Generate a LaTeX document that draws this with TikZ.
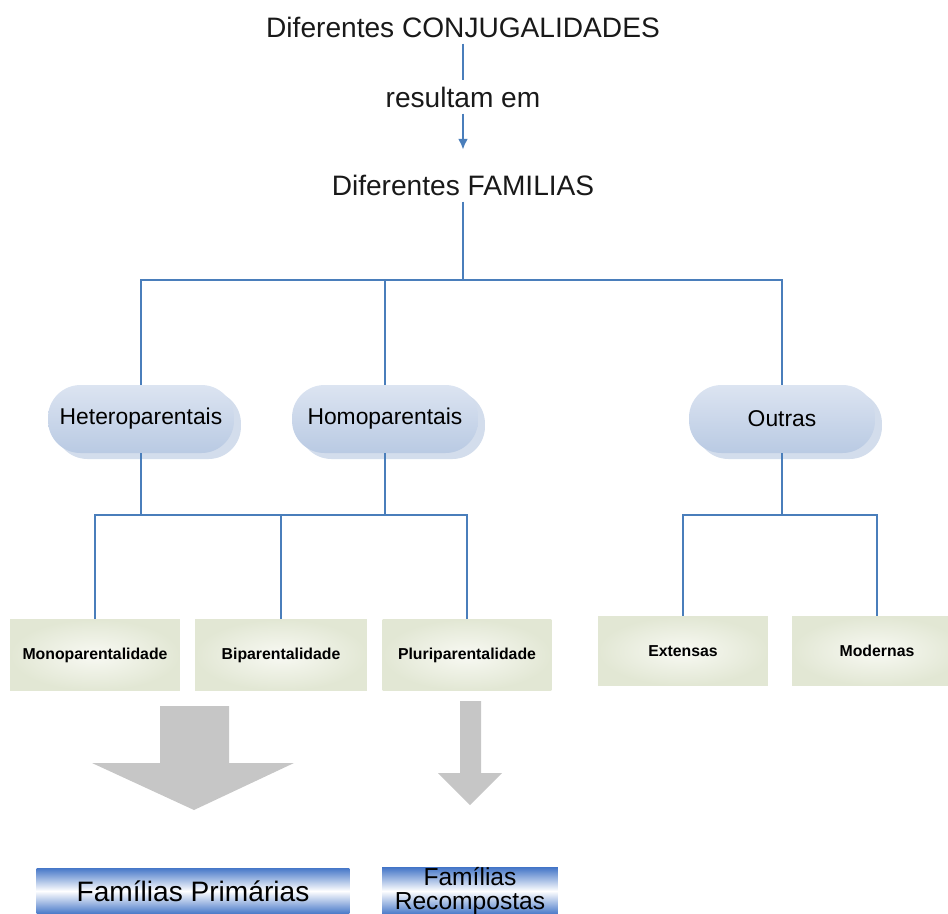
\documentclass[tikz,border=0pt]{standalone}
\usepackage{fontspec}
\setmainfont{Liberation Sans}
\usetikzlibrary{positioning,shadows,arrows.meta}

\definecolor{linkblue}{HTML}{4A7EBB}
\definecolor{pilltop}{HTML}{DCE4F1}
\definecolor{pillbot}{HTML}{B9CAE3}
\definecolor{pillshade}{HTML}{D3DDEC}
\definecolor{leafout}{HTML}{E2E7D4}
\definecolor{leafin}{HTML}{F8F9F3}
\definecolor{bararrow}{HTML}{C6C6C6}
\definecolor{barblue}{HTML}{4677C8}

\tikzset{
  link/.style={draw=linkblue, line width=0.9pt},
  title/.style={font=\fontsize{16}{19}\selectfont, text=black!90},
  pill/.style={rounded corners=0.65cm, top color=pilltop, bottom color=pillbot,
    minimum width=3.72cm, minimum height=1.36cm,
    font=\fontsize{13}{15}\selectfont,
    drop shadow={shadow xshift=0.14cm, shadow yshift=-0.12cm, fill=pillshade, opacity=1}},
  leaf/.style={inner color=leafin, outer color=leafout, minimum width=3.4cm,
    minimum height=1.42cm, font=\bfseries\fontsize{9}{11}\selectfont},
  result/.style={top color=barblue, bottom color=barblue, middle color=white,
    minimum height=0.92cm, inner sep=0pt}
}

\begin{document}
\begin{tikzpicture}[x=0.02cm, y=-0.02cm]
  \useasboundingbox (0,0) rectangle (948,914);

  % top of the chart
  \node[title] (conj) at (463,27) {Diferentes CONJUGALIDADES};
  \node[title] (res) at (463,97) {resultam em};
  \node[title] (fam) at (463,185) {Diferentes FAMILIAS};
  \draw[link] (conj) -- (res);
  \draw[link, -{Latex[length=6pt, width=5.5pt]}, shorten >=0.38cm] (res) -- (fam);

  % family kinds
  \node[pill] (het) at (141,419) {Heteroparentais};
  \node[pill] (homo) at (385,419) {Homoparentais};
  \node[pill] (outr) at (782,419) {Outras};

  \coordinate (top) at (463,280);
  \draw[link] (fam) -- (top);
  \draw[link] (top) -| (het);
  \draw[link] (top) -| (homo);
  \draw[link] (top) -| (outr);

  % leaves
  \node[leaf, minimum width=3.4cm] (mono) at (95,655) {Monoparentalidade};
  \node[leaf, minimum width=3.44cm] (bi) at (281,655) {Biparentalidade};
  \node[leaf, minimum width=3.38cm] (pluri) at (467,655) {Pluriparentalidade};
  \node[leaf, minimum height=1.38cm] (ext) at (683,651) {Extensas};
  \node[leaf, minimum height=1.38cm] (mod) at (877,651) {Modernas};

  \coordinate (mid) at (141,515);
  \coordinate (oj) at (782,515);
  \draw[link] (het) -- (mid);
  \draw[link] (homo) -- (homo |- mid);
  \draw[link] (mid) -| (mono);
  \draw[link] (mid) -| (bi);
  \draw[link] (mid) -| (pluri);
  \draw[link] (outr) -- (oj);
  \draw[link] (oj) -| (ext);
  \draw[link] (oj) -| (mod);

  % block arrows
  \fill[bararrow] (160,706) -- (229,706) -- (229,763) -- (294,763) -- (194,810)
    -- (92,763) -- (160,763) -- cycle;
  \fill[bararrow] (460,701) -- (481,701) -- (481,773) -- (502,773) -- (470,805)
    -- (438,773) -- (460,773) -- cycle;

  % results
  \node[result, minimum width=6.26cm, font=\fontsize{16}{19}\selectfont]
    (prim) at (193,891) {Famílias Primárias};
  \node[result, minimum width=3.52cm, align=center,
    font=\fontsize{14}{13.5}\selectfont]
    (recomp) at (470,891) {Famílias\\Recompostas};
\end{tikzpicture}
\end{document}
